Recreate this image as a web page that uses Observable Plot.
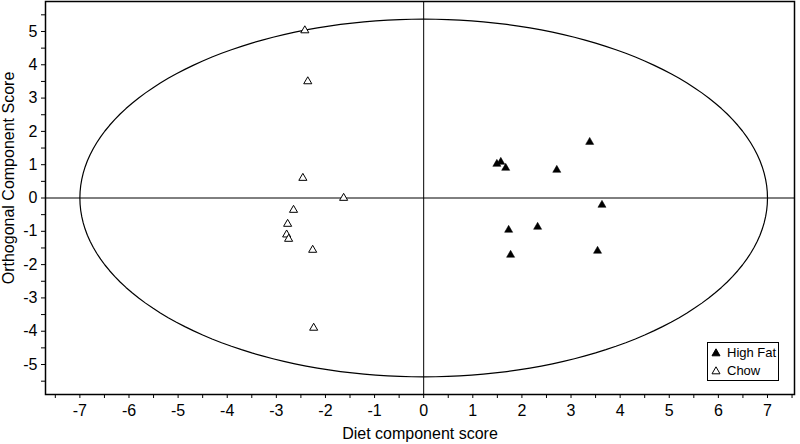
<!DOCTYPE html>
<html>
<head>
<meta charset="utf-8">
<script src="https://cdn.jsdelivr.net/npm/d3@7"></script>
<script src="https://cdn.jsdelivr.net/npm/@observablehq/plot@0.6"></script>
<style>
  html, body { margin: 0; padding: 0; background: #fff; }
  #wrap { position: relative; width: 800px; height: 444px; font-family: "Liberation Sans", Arial, sans-serif; }
  #legend { position: absolute; left: 707px; top: 342px; width: 72px; height: 39px; border: 1px solid #000; background: #fff; font-size: 13px; box-sizing: border-box; white-space: nowrap; }
  #legend div { display: flex; align-items: center; height: 18px; padding-left: 3px; white-space: nowrap; }
  #legend svg { margin-right: 6px; flex: none; }
</style>
</head>
<body>
<div id="wrap"></div>
<script>
// Data
const highFatX = [1.49, 1.57, 1.67, 2.71, 3.38, 3.63, 1.73, 2.32, 1.77, 3.54];
const highFatY = [1.02, 1.08, 0.90, 0.84, 1.68, -0.21, -0.96, -0.87, -1.71, -1.59];
const chowX = [-2.42, -2.36, -2.46, -1.63, -2.65, -2.77, -2.79, -2.75, -2.26, -2.24];
const chowY = [5.03, 3.50, 0.60, 0.00, -0.36, -0.78, -1.10, -1.23, -1.56, -3.90];
const xTicks = [-7, -6, -5, -4, -3, -2, -1, 0, 1, 2, 3, 4, 5, 6, 7];
const yTicks = [-5, -4, -3, -2, -1, 0, 1, 2, 3, 4, 5];
const xMinorTicks = [-7.5, -6.5, -5.5, -4.5, -3.5, -2.5, -1.5, -0.5, 0.5, 1.5, 2.5, 3.5, 4.5, 5.5, 6.5, 7.5];
const yMinorTicks = [-5.5, -4.5, -3.5, -2.5, -1.5, -0.5, 0.5, 1.5, 2.5, 3.5, 4.5, 5.5];
const ellipseAxes = [7.0, 5.37]; // semi-axes of the confidence ellipse
const xTitle = "Diet component score";
const yTitle = "Orthogonal Component Score";

const highFat = highFatX.map((x, i) => ({x, y: highFatY[i]}));
const chow = chowX.map((x, i) => ({x, y: chowY[i]}));
const ellipse = d3.range(0, 361, 2).map(a => ({
  x: ellipseAxes[0] * Math.cos(a * Math.PI / 180),
  y: ellipseAxes[1] * Math.sin(a * Math.PI / 180)
}));

const fmt = d => d < 0 ? "-" + Math.abs(d) : String(d);

const chart = Plot.plot({
  width: 800,
  height: 444,
  marginLeft: 45,
  marginRight: 6,
  marginTop: 1,
  marginBottom: 50,
  style: { fontFamily: '"Liberation Sans", Arial, sans-serif', fontSize: "16px", color: "#000", background: "#fff" },
  x: { domain: [-7.7, 7.55] },
  y: { domain: [-5.9, 5.9] },
  marks: [
    Plot.ruleX([0], { stroke: "#000", strokeWidth: 1 }),
    Plot.ruleY([0], { stroke: "#000", strokeWidth: 1 }),
    Plot.line(ellipse, { x: "x", y: "y", stroke: "#000", strokeWidth: 1.2 }),
    Plot.axisX({ ticks: xMinorTicks, tickSize: 4, text: null, label: null, stroke: "#000" }),
    Plot.axisX({ ticks: xTicks, tickSize: 4, tickPadding: 6, fontSize: 16, label: xTitle, labelAnchor: "center", labelArrow: "none", labelOffset: 44, stroke: "#000", fill: "#000", tickFormat: fmt }),
    Plot.axisY({ ticks: yMinorTicks, tickSize: 4, text: null, label: null, stroke: "#000" }),
    Plot.axisY({ ticks: yTicks, tickSize: 4, tickPadding: 4, fontSize: 16, label: null, stroke: "#000", fill: "#000", tickFormat: fmt }),
    Plot.frame({ stroke: "#000", strokeWidth: 1.5 }),
    Plot.dot(chow, { x: "x", y: "y", symbol: "triangle", r: 3, fill: "#fff", stroke: "#000", strokeWidth: 1 }),
    Plot.dot(highFat, { x: "x", y: "y", symbol: "triangle", r: 3, fill: "#000", stroke: "#000", strokeWidth: 0.5 })
  ]
});

// y-axis title: the reference places it a little above the frame's middle
const t = document.createElementNS("http://www.w3.org/2000/svg", "text");
t.setAttribute("transform", "translate(14,178) rotate(-90)");
t.setAttribute("text-anchor", "middle");
t.setAttribute("font-size", "16");
t.setAttribute("fill", "#000");
t.textContent = yTitle;
chart.appendChild(t);

const wrap = document.getElementById("wrap");
wrap.appendChild(chart);

const legend = document.createElement("div");
legend.id = "legend";
const tri = (filled) => `<svg width="10" height="9" viewBox="-5 -5 10 9"><path d="M0,-4.2L4,2.8L-4,2.8Z" fill="${filled ? '#000' : '#fff'}" stroke="#000" stroke-width="1"/></svg>`;
legend.innerHTML = `<div>${tri(true)}High Fat</div><div>${tri(false)}Chow</div>`;
wrap.appendChild(legend);
</script>
</body>
</html>
